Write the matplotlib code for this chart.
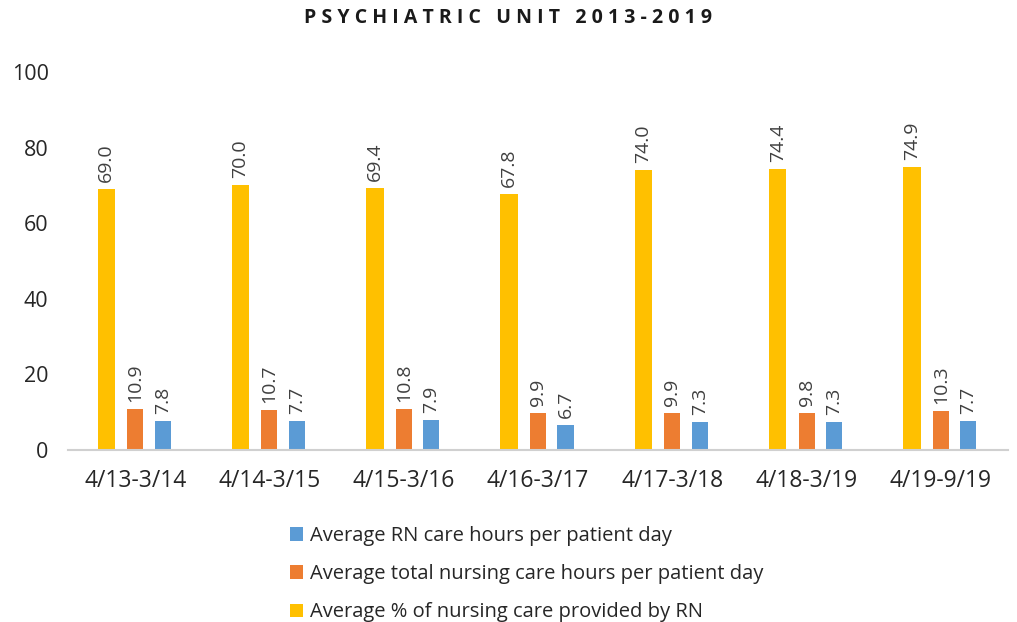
import numpy as np
import matplotlib.pyplot as plt

periods = ["4/13-3/14", "4/14-3/15", "4/15-3/16", "4/16-3/17",
           "4/17-3/18", "4/18-3/19", "4/19-9/19"]
pct_rn = [69.0, 70.0, 69.4, 67.8, 74.0, 74.4, 74.9]
total_hours = [10.9, 10.7, 10.8, 9.9, 9.9, 9.8, 10.3]
rn_hours = [7.8, 7.7, 7.9, 6.7, 7.3, 7.3, 7.7]

plt.rcParams['font.family'] = ['Open Sans', 'DejaVu Sans']

fig = plt.figure(figsize=(10.17, 6.22), dpi=100)
ax = fig.add_axes([68 / 1017, 172 / 622, 940 / 1017, 378 / 622])

x = np.arange(len(periods))
w = 0.12
b_blue = ax.bar(x + 0.205, rn_hours, w, color='#5B9BD5',
                label='Average RN care hours per patient day')
b_orange = ax.bar(x, total_hours, w, color='#ED7D31',
                  label='Average total nursing care hours per patient day')
b_yellow = ax.bar(x - 0.215, pct_rn, w + 0.01, color='#FFC000',
                  label='Average % of nursing care provided by RN')

for bars, vals in [(b_yellow, pct_rn), (b_orange, total_hours), (b_blue, rn_hours)]:
    for r, v in zip(bars, vals):
        ax.annotate(f"{v:.1f}", (r.get_x() + r.get_width() / 2, v),
                    xytext=(0, 5), textcoords='offset points',
                    rotation=90, ha='center', va='bottom',
                    fontsize=14, color='#404040')

ax.set_xlim(-0.5, len(periods) - 0.5)
ax.set_ylim(0, 100)
ax.set_yticks(range(0, 101, 20))
ax.set_xticks(x)
ax.set_xticklabels(periods, fontsize=16.5, color='#262626')
ax.tick_params(axis='y', length=0, labelsize=15.5, labelcolor='#262626', pad=14)
ax.tick_params(axis='x', length=0, pad=14)
for s in ['top', 'right', 'left']:
    ax.spines[s].set_visible(False)
ax.spines['bottom'].set_color('#D0D0D0')
ax.spines['bottom'].set_linewidth(1.5)

fig.text(0.5, 1 - 18 / 622, "P S Y C H I A T R I C   U N I T   2 0 1 3 - 2 0 1 9",
         ha='center', va='center', fontsize=14, fontweight='bold', color='#1a1a1a')

fig.legend(handles=[b_blue, b_orange, b_yellow], loc='upper left',
           bbox_to_anchor=(272 / 1017, 1 - 508 / 622), frameon=False,
           fontsize=14.5, handlelength=0.65, handleheight=0.65,
           handletextpad=0.35, labelspacing=0.9, labelcolor='#262626')

fig.savefig('out.png', dpi=100)
